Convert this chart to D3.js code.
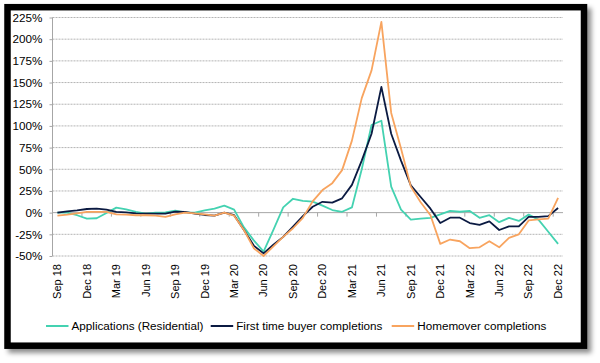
<!DOCTYPE html>
<html>
<head>
<meta charset="utf-8">
<script src="https://cdn.jsdelivr.net/npm/d3@7"></script>
<style>
  body { margin: 0; background: #fff; }
  svg { display: block; font-family: "Liberation Sans", Arial, sans-serif; }
</style>
</head>
<body>
<svg id="chart"></svg>
<script>
var width = 600;
var height = 363;

var months = [
  "Sep 18", "Oct 18", "Nov 18", "Dec 18", "Jan 19", "Feb 19", "Mar 19", "Apr 19",
  "May 19", "Jun 19", "Jul 19", "Aug 19", "Sep 19", "Oct 19", "Nov 19", "Dec 19",
  "Jan 20", "Feb 20", "Mar 20", "Apr 20", "May 20", "Jun 20", "Jul 20", "Aug 20",
  "Sep 20", "Oct 20", "Nov 20", "Dec 20", "Jan 21", "Feb 21", "Mar 21", "Apr 21",
  "May 21", "Jun 21", "Jul 21", "Aug 21", "Sep 21", "Oct 21", "Nov 21", "Dec 21",
  "Jan 22", "Feb 22", "Mar 22", "Apr 22", "May 22", "Jun 22", "Jul 22", "Aug 22",
  "Sep 22", "Oct 22", "Nov 22", "Dec 22"
];

var applications = [
  0, 0, -3, -7, -6.5, -0.5, 5.8, 3.8, 0.8, -1.2, 0, 0.4, 2.3, 0.4, 0, 2.7,
  4.6, 8, 3.5, -17, -32, -45, -20, 6, 16, 13.5, 12.7, 8, 3, 1, 6, 50,
  101, 106, 30, 3.5, -8, -7, -6, -2, 2, 1, 2, -6, -3, -11, -6, -9.6,
  -2.3, -8, -22, -36
];

var firstTimeBuyer = [
  0, 1.5, 2.7, 4.2, 4.6, 3.5, 0.8, 0.4, -0.8, -1.2, -1.2, -1.2, 1.2, 0.8, -1.2, -2.7,
  -3.5, 0, -3, -20, -38, -47, -37, -28, -16, -4, 6.8, 12.5, 11.5, 16.5, 32, 60,
  91, 145, 91, 60, 31.5, 18, 4.6, -12, -5.8, -5.8, -12, -14, -10, -20, -15.8, -15.8,
  -5, -5, -4, 5.4
];

var homemover = [
  -3.5, -2.3, -0.8, 0.8, 0.8, 0.8, -2, -2.3, -3, -3, -3.5, -5, -2, 0, -0.8, -2,
  -3.5, 0, -3.5, -20, -41, -50, -39, -28, -18, -6, 13, 26, 34, 49, 83, 132,
  164, 220, 115, 74, 30, 12, -3, -36, -31, -33, -41, -40, -33, -40, -29, -25,
  -9, -7.7, -7, 17
];

var yTicks = [-50, -25, 0, 25, 50, 75, 100, 125, 150, 175, 200, 225];

var series = [
  { name: "Applications (Residential)", values: applications, color: "#44d2b1" },
  { name: "First time buyer completions", values: firstTimeBuyer, color: "#0b1a42" },
  { name: "Homemover completions", values: homemover, color: "#f8a45f" }
];

var plotLeft = 52.5;
var plotRight = 563;
var plotTop = 17.5;
var plotBottom = 256;

var xScale =
  d3.scaleBand()
    .domain(months)
    .range([plotLeft, plotRight]);

var yScale =
  d3.scaleLinear()
    .domain([-50, 225])
    .range([plotBottom, plotTop]);

var xMid = d => xScale(d) + xScale.bandwidth() / 2;

var svg = d3.select("#chart")
  .attr("width", width)
  .attr("height", height);

// Frame with shadow
var defs = svg.append("defs");
var shadow = defs.append("filter")
    .attr("id", "shadow")
    .attr("x", "-5%")
    .attr("y", "-5%")
    .attr("width", "115%")
    .attr("height", "120%");
shadow.append("feDropShadow")
    .attr("dx", 4)
    .attr("dy", 4)
    .attr("stdDeviation", 2.5)
    .attr("flood-color", "#000")
    .attr("flood-opacity", 0.45);

svg.append("rect")
    .attr("x", 7.5)
    .attr("y", 7.2)
    .attr("width", 576.5)
    .attr("height", 338.5)
    .attr("fill", "#fff")
    .attr("stroke", "#000")
    .attr("stroke-width", 6.5)
    .attr("filter", "url(#shadow)");

// Gridlines
svg.append("g")
  .selectAll("line")
  .data(yTicks.filter(d => d !== 0))
  .enter()
  .append("line")
    .attr("x1", plotLeft)
    .attr("x2", plotRight)
    .attr("y1", d => yScale(d))
    .attr("y2", d => yScale(d))
    .attr("stroke", "#ababab")
    .attr("stroke-width", 0.9)
    .attr("stroke-dasharray", "2,1");

// Y axis
var yAxis =
  d3.axisLeft(yScale)
    .tickValues(yTicks)
    .tickFormat(d => d + "%")
    .tickSize(3)
    .tickPadding(7);

var yG = svg.append("g")
    .attr("transform", `translate(${plotLeft}, 0)`)
    .call(yAxis);
yG.select(".domain")
    .attr("stroke", "#a6a6a6")
    .attr("d", `M0,${plotTop}V${plotBottom}`);
yG.selectAll(".tick line").attr("stroke", "#a6a6a6");
yG.selectAll(".tick text")
    .attr("fill", "#000")
    .style("font-size", "11.7px");

// Zero line with tick marks
var y0 = yScale(0);
svg.append("line")
    .attr("x1", plotLeft)
    .attr("x2", plotRight)
    .attr("y1", y0)
    .attr("y2", y0)
    .attr("stroke", "#a6a6a6")
    .attr("stroke-width", 1);

var labelled = months.filter((d, i) => i % 3 === 0);

svg.append("g")
  .selectAll("line")
  .data(labelled)
  .enter()
  .append("line")
    .attr("x1", d => xScale(d))
    .attr("x2", d => xScale(d))
    .attr("y1", y0)
    .attr("y2", y0 + 4)
    .attr("stroke", "#a6a6a6");

// X labels
svg.append("g")
  .selectAll("text")
  .data(labelled)
  .enter()
  .append("text")
    .attr("transform", d => `translate(${xMid(d)}, 264) rotate(-90)`)
    .attr("dy", "0.35em")
    .style("text-anchor", "end")
    .style("font-size", "11px")
    .attr("fill", "#000")
    .text(d => d);

// Lines
var line = d3.line()
    .x((d, i) => xMid(months[i]))
    .y(d => yScale(d));

svg.append("g")
  .selectAll("path")
  .data(series)
  .enter()
  .append("path")
    .attr("d", d => line(d.values))
    .attr("fill", "none")
    .attr("stroke", d => d.color)
    .attr("stroke-width", 1.8)
    .attr("stroke-linejoin", "round");

// Legend
var legendX = [46, 210.7, 391.7];
var legend = svg.append("g")
  .selectAll("g")
  .data(series)
  .enter()
  .append("g")
    .attr("transform", (d, i) => `translate(${legendX[i]}, 326)`);

legend.append("line")
    .attr("x1", 0)
    .attr("x2", 22.5)
    .attr("stroke", d => d.color)
    .attr("stroke-width", 2);

legend.append("text")
    .attr("x", 25.5)
    .attr("dy", "0.35em")
    .style("font-size", "11.7px")
    .attr("fill", "#000")
    .text(d => d.name);
</script>
</body>
</html>
